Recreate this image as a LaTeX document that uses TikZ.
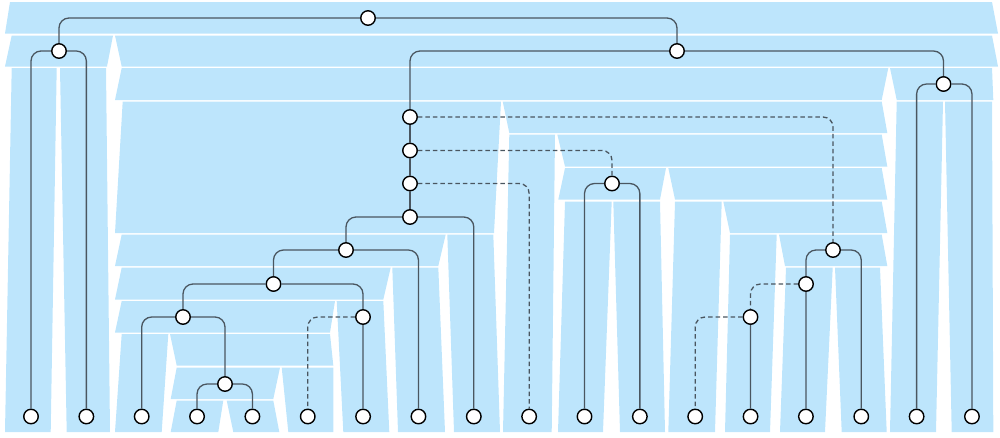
\documentclass[tikz,border=0pt]{standalone}
\definecolor{bandcol}{RGB}{189,229,252}
\definecolor{linkcol}{RGB}{74,86,96}
\tikzset{
  nd/.style={circle, draw=black, fill=white, line width=1.4pt, minimum size=14.5pt, inner sep=0pt},
  link/.style={draw=linkcol, line width=1.3pt, rounded corners=10pt},
  dlink/.style={link, dash pattern=on 4.5pt off 3pt},
  tract/.style={fill=bandcol, draw=none}
}
\begin{document}
\begin{tikzpicture}[x=1pt,y=-1pt]
\useasboundingbox (0,0) rectangle (1000,437);
% ---------- background tracts ----------
% row 1
\fill[tract] (10,2) -- (992,2) -- (998,33.5) -- (5,33.5) -- cycle;
% row 2
\fill[tract] (11.7,35.5) -- (113,35.5) -- (107,66.5) -- (5,66.5) -- cycle;
\fill[tract] (115,35.5) -- (992,35.5) -- (998,66.5) -- (121.7,66.5) -- cycle;
% row 3
\fill[tract] (121.7,68) -- (888.3,68) -- (881.7,100) -- (115,100) -- cycle;
\fill[tract] (890,68) -- (992,68) -- (993.3,100) -- (896.7,100) -- cycle;
% long columns
\fill[tract] (11.7,68) -- (56.7,68) -- (50.7,432) -- (5,432) -- cycle;
\fill[tract] (60,68) -- (106,68) -- (110,432) -- (66.7,432) -- cycle;
\fill[tract] (896.7,101.5) -- (943,101.5) -- (936,432) -- (890,432) -- cycle;
\fill[tract] (945,101.5) -- (992,101.5) -- (993.3,432) -- (951.7,432) -- cycle;
% big block rows 4-7
\fill[tract] (122.7,101.5) -- (501,101.5) -- (494,233) -- (115,233) -- cycle;
% row 4 right
\fill[tract] (502.7,101.5) -- (881.7,101.5) -- (887.3,133) -- (509.3,133) -- cycle;
% row 5
\fill[tract] (509.3,134.5) -- (555,134.5) -- (551.7,432) -- (503,432) -- cycle;
\fill[tract] (557.3,134.5) -- (881.7,134.5) -- (887.3,166.5) -- (565,166.5) -- cycle;
% row 6
\fill[tract] (565,168) -- (666,168) -- (660,199.5) -- (558.3,199.5) -- cycle;
\fill[tract] (668.3,168) -- (881.7,168) -- (887.3,199.5) -- (675,199.5) -- cycle;
% row 7
\fill[tract] (565,201.5) -- (611.7,201.5) -- (603,432) -- (558,432) -- cycle;
\fill[tract] (613.3,201.5) -- (660,201.5) -- (665,432) -- (620,432) -- cycle;
\fill[tract] (675,201.5) -- (721.7,201.5) -- (715,432) -- (668.3,432) -- cycle;
\fill[tract] (723.3,201.5) -- (881.7,201.5) -- (887.3,233) -- (730,233) -- cycle;
% row 8
\fill[tract] (730,234.5) -- (776.7,234.5) -- (770,432) -- (725,432) -- cycle;
\fill[tract] (779,234.5) -- (881.7,234.5) -- (887.3,266) -- (785,266) -- cycle;
\fill[tract] (121.7,234.5) -- (445.7,234.5) -- (438.3,266) -- (115,266) -- cycle;
\fill[tract] (447.3,234.5) -- (493.3,234.5) -- (500,432) -- (454,432) -- cycle;
% row 9
\fill[tract] (786,267.5) -- (832.7,267.5) -- (825,432) -- (780,432) -- cycle;
\fill[tract] (835,267.5) -- (880,267.5) -- (886.7,432) -- (841.7,432) -- cycle;
\fill[tract] (121.7,267.5) -- (390.7,267.5) -- (383.3,299.5) -- (115,299.5) -- cycle;
\fill[tract] (392.3,267.5) -- (438.3,267.5) -- (445,432) -- (398,432) -- cycle;
% row 10
\fill[tract] (121.7,301) -- (335,301) -- (330,332.5) -- (115,332.5) -- cycle;
\fill[tract] (336.7,301) -- (383.3,301) -- (389.3,432) -- (343.3,432) -- cycle;
% row 11
\fill[tract] (121.7,334) -- (168.3,334) -- (161.7,432) -- (115,432) -- cycle;
\fill[tract] (170,334) -- (330,334) -- (333.3,365.5) -- (176.7,365.5) -- cycle;
% row 12
\fill[tract] (176.7,367.5) -- (280,367.5) -- (273.3,399) -- (170.7,399) -- cycle;
\fill[tract] (281.7,367.5) -- (333.3,367.5) -- (333.3,432) -- (288.3,432) -- cycle;
% row 13
\fill[tract] (176.7,400.5) -- (223.3,400.5) -- (218.3,432) -- (170.7,432) -- cycle;
\fill[tract] (226.7,400.5) -- (273.3,400.5) -- (279.3,432) -- (233.3,432) -- cycle;
% ---------- nodes ----------
\node[nd] (R) at (368,18) {};
\node[nd] (A) at (59,51) {};
\node[nd] (B) at (677,51) {};
\node[nd] (C) at (943.5,84) {};
\node[nd] (D1) at (410,117) {};
\node[nd] (D2) at (410,150.5) {};
\node[nd] (D3) at (410,183.5) {};
\node[nd] (D4) at (410,217) {};
\node[nd] (E) at (612,183.5) {};
\node[nd] (P) at (346,250) {};
\node[nd] (J) at (833,250) {};
\node[nd] (Q) at (273.5,284) {};
\node[nd] (K) at (806,284) {};
\node[nd] (G) at (183,317) {};
\node[nd] (I) at (363,317) {};
\node[nd] (L) at (750.5,317) {};
\node[nd] (H) at (225,384) {};
\foreach \i in {1,...,18} {
  \node[nd] (l\i) at ({31+55.35*(\i-1)},416.5) {};
}
% ---------- connectors ----------
\draw[link] (R) -| (A);
\draw[link] (R) -| (B);
\draw[link] (A) -| (l1);
\draw[link] (A) -| (l2);
\draw[link] (B) -| (D1);
\draw[link] (B) -| (C);
\draw[link] (C) -| (l17);
\draw[link] (C) -| (l18);
\draw[link] (D1) -- (D2);
\draw[link] (D2) -- (D3);
\draw[link] (D3) -- (D4);
\draw[dlink] (D1) -| (J);
\draw[dlink] (D2) -| (E);
\draw[dlink] (D3) -| (l10);
\draw[link] (D4) -| (P);
\draw[link] (D4) -| (l9);
\draw[link] (P) -| (Q);
\draw[link] (P) -| (l8);
\draw[link] (Q) -| (G);
\draw[link] (Q) -| (I);
\draw[link] (G) -| (l3);
\draw[link] (G) -| (H);
\draw[link] (H) -| (l4);
\draw[link] (H) -| (l5);
\draw[link] (I) -- (l7);
\draw[dlink] (I) -| (l6);
\draw[link] (E) -| (l11);
\draw[link] (E) -| (l12);
\draw[link] (J) -| (K);
\draw[link] (J) -| (l16);
\draw[link] (K) -- (l15);
\draw[dlink] (K) -| (L);
\draw[link] (L) -- (l14);
\draw[dlink] (L) -| (l13);
\end{tikzpicture}
\end{document}
